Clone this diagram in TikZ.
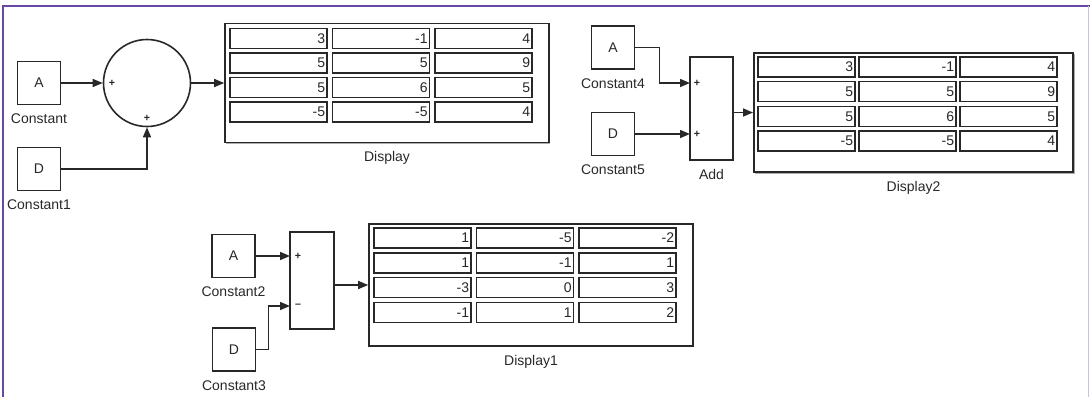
\documentclass[tikz,border=0pt]{standalone}
\usepackage{fontspec}
\setmainfont{Liberation Sans}
\usetikzlibrary{arrows.meta,positioning,shadows}

\definecolor{frame}{RGB}{104,72,164}
\definecolor{lineclr}{RGB}{40,40,40}
\tikzset{
  blk/.style={draw=lineclr, line width=1.2pt, fill=white, inner sep=0pt,
    font=\fontsize{10.5}{12}\selectfont, text=lineclr},
  cst/.style={blk, minimum width=32.5pt, minimum height=32.5pt},
  cell/.style={draw=lineclr, line width=1.2pt, minimum height=15pt, text width=70pt,
    inner xsep=1.5pt, inner ysep=0pt, align=right, font=\fontsize{10.5}{12}\selectfont, text=lineclr},
  disp/.style={draw=lineclr, line width=1.2pt, fill=white, inner sep=0pt,
    minimum width=243pt, minimum height=89.5pt,
    drop shadow={shadow xshift=1.1pt, shadow yshift=-1.1pt, fill=black!45, opacity=0.7}},
  lbl/.style={inner sep=0pt, text height=7.5pt, text depth=0pt,
    font=\fontsize{10.5}{12}\selectfont, text=lineclr},
  sgn/.style={inner sep=0pt, font=\fontsize{8}{9}\bfseries, text=lineclr},
  sig/.style={draw=lineclr, line width=1.1pt, -{Triangle[length=7.5pt,width=6pt]}},
}

\begin{document}
\begin{tikzpicture}[x=0.75pt,y=-0.75pt]
\useasboundingbox (0,0) rectangle (1090,397);

%Frame
\draw [frame, line width=1.5pt] (3,397) -- (3,6) -- (1090,6) ;
\draw [frame!35, line width=0.75pt] (1088,6) -- (1088,397) ;

%Sum with circle
\node[cst] (c) at (39,83) {A};
\node[lbl, below=6pt of c] (c-l) {Constant};
\node[cst] (c1) at (39,169) {D};
\node[lbl, below=6pt of c1] (c1-l) {Constant1};
\node[blk, circle, minimum size=65.25pt] (sum) at (147,83) {};
\node[sgn] (sum-p1) at (112,83) {+};
\node[sgn] (sum-p2) at (147,118) {+};

\node[disp] (disp) at (387,83) {};
\node[lbl, below=5.5pt of disp] (disp-l) {Display};
\node[cell] (disp-11) at (278.5,38.5) {3};
\node[cell] (disp-12) at (381,38.5) {-1};
\node[cell] (disp-13) at (483.5,38.5) {4};
\node[cell] (disp-21) at (278.5,63) {5};
\node[cell] (disp-22) at (381,63) {5};
\node[cell] (disp-23) at (483.5,63) {9};
\node[cell] (disp-31) at (278.5,87.5) {5};
\node[cell] (disp-32) at (381,87.5) {6};
\node[cell] (disp-33) at (483.5,87.5) {5};
\node[cell] (disp-41) at (278.5,112) {-5};
\node[cell] (disp-42) at (381,112) {-5};
\node[cell] (disp-43) at (483.5,112) {4};

\draw[sig] (c) -- (sum) ;
\draw[sig] (c1) -| (sum) ;
\draw[sig] (sum) -- (disp) ;

%Add block
\node[cst] (c4) at (613,47.5) {A};
\node[lbl, below=6pt of c4] (c4-l) {Constant4};
\node[cst] (c5) at (613,134) {D};
\node[lbl, below=6pt of c5] (c5-l) {Constant5};
\node[blk, minimum width=32.25pt, minimum height=77.25pt] (add) at (711.5,108.5) {};
\node[lbl, below=6pt of add] (add-l) {Add};
\coordinate (add-i1) at (690,83);
\coordinate (add-i2) at (690,134);
\node[sgn] (add-p1) at (697,83) {+};
\node[sgn] (add-p2) at (697,134) {+};

\node[disp, minimum width=239.5pt] (disp2) at (913.5,112.5) {};
\node[lbl, below=6pt of disp2] (disp2-l) {Display2};
\node[cell] (disp2-11) at (806.5,67) {3};
\node[cell] (disp2-12) at (907.5,67) {-1};
\node[cell] (disp2-13) at (1008.5,67) {4};
\node[cell] (disp2-21) at (806.5,91.5) {5};
\node[cell] (disp2-22) at (907.5,91.5) {5};
\node[cell] (disp2-23) at (1008.5,91.5) {9};
\node[cell] (disp2-31) at (806.5,116.5) {5};
\node[cell] (disp2-32) at (907.5,116.5) {6};
\node[cell] (disp2-33) at (1008.5,116.5) {5};
\node[cell] (disp2-41) at (806.5,141) {-5};
\node[cell] (disp2-42) at (907.5,141) {-5};
\node[cell] (disp2-43) at (1008.5,141) {4};

\draw[sig] (c4.east) -- ++(24,0) |- (add-i1) ;
\draw[sig] (c5) -- (add-i2) ;
\draw[sig] (add.east |- disp2) -- (disp2) ;

%Subtract block
\node[cst] (c2) at (233.5,256) {A};
\node[lbl, below=6pt of c2] (c2-l) {Constant2};
\node[cst] (c3) at (234,349.5) {D};
\node[lbl, below=6pt of c3] (c3-l) {Constant3};
\node[blk, minimum width=33pt, minimum height=72.75pt] (sub) at (312,280.5) {};
\coordinate (sub-i1) at (290,256);
\coordinate (sub-i2) at (290,306);
\node[sgn] (sub-p1) at (298,256) {+};
\node[sgn] (sub-p2) at (298,306) {--};

\node[disp, minimum height=91.5pt] (disp1) at (531,285) {};
\node[lbl, below=6pt of disp1] (disp1-l) {Display1};
\node[cell] (disp1-11) at (422.5,238) {1};
\node[cell] (disp1-12) at (525,238) {-5};
\node[cell] (disp1-13) at (627.5,238) {-2};
\node[cell] (disp1-21) at (422.5,263) {1};
\node[cell] (disp1-22) at (525,263) {-1};
\node[cell] (disp1-23) at (627.5,263) {1};
\node[cell] (disp1-31) at (422.5,287.5) {-3};
\node[cell] (disp1-32) at (525,287.5) {0};
\node[cell] (disp1-33) at (627.5,287.5) {3};
\node[cell] (disp1-41) at (422.5,312.5) {-1};
\node[cell] (disp1-42) at (525,312.5) {1};
\node[cell] (disp1-43) at (627.5,312.5) {2};

\draw[sig] (c2) -- (sub-i1) ;
\draw[sig] (c3.east) -- ++(12,0) |- (sub-i2) ;
\draw[sig] (sub.east |- disp1) -- (disp1) ;

\end{tikzpicture}
\end{document}
